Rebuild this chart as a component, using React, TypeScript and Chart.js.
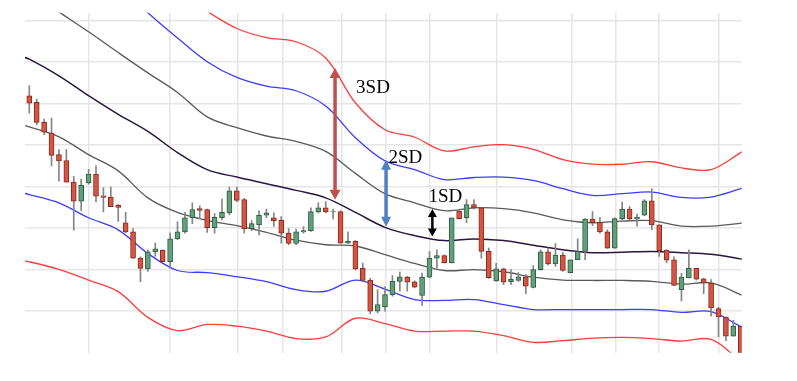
import React, { useEffect, useRef } from "react";
import { Chart, registerables } from "chart.js";

Chart.register(...registerables);

// ---- candle data (index 0..96) ----
const opens = [
  61.9, 60.3, 55.5, 52.9, 47.7, 46.3, 41.1, 36.5, 40.9, 43.0,
  37.8, 37.5, 35.5, 31.3, 29.1, 22.8, 20.2, 24.3, 24.7, 21.9,
  27.4, 29.1, 32.5, 34.7, 34.5, 30.1, 32.5, 33.7, 39.0, 36.9,
  29.9, 30.8, 33.1, 32.5, 31.9, 28.8, 26.3, 29.1, 29.4, 33.9,
  34.9, 33.9, 34.0, 26.4, 26.8, 20.3, 17.5, 10.0, 11.0, 14.0,
  17.2, 18.2, 17.1, 13.8, 18.2, 22.8, 23.4, 21.6, 34.1, 32.5,
  35.7, 34.9, 24.4, 17.3, 20.2, 17.1, 17.4, 18.3, 15.7, 20.0,
  24.3, 21.4, 23.5, 19.3, 22.4, 24.4, 32.2, 31.4, 29.1, 25.2,
  32.3, 34.6, 32.2, 33.1, 36.6, 30.8, 24.7, 22.4, 15.2, 18.0,
  20.3, 17.8, 16.8, 10.6, 8.6, 4.0, 6.4,
];
const closes = [
  60.1, 55.5, 53.1, 47.5, 46.2, 41.1, 36.5, 40.3, 43.0, 37.7,
  37.4, 35.2, 35.0, 29.1, 22.8, 20.3, 24.3, 25.0, 21.9, 27.4,
  29.1, 32.5, 34.5, 34.3, 30.1, 32.6, 33.8, 39.0, 36.7, 29.9,
  31.1, 33.1, 33.7, 31.8, 28.8, 26.3, 29.1, 29.4, 34.0, 34.9,
  33.9, 34.0, 26.4, 26.8, 20.2, 17.4, 10.0, 11.6, 14.0, 17.2,
  18.3, 17.0, 15.8, 18.2, 22.8, 23.4, 21.6, 32.5, 32.3, 35.7,
  34.9, 24.4, 18.1, 20.2, 17.0, 17.7, 18.3, 16.0, 20.0, 24.3,
  21.4, 23.5, 19.8, 22.4, 24.4, 32.2, 31.3, 29.1, 25.2, 32.3,
  34.6, 32.3, 32.6, 36.6, 30.8, 24.6, 22.3, 16.2, 18.2, 20.3,
  17.7, 16.8, 10.8, 8.6, 4.0, 6.4, -1.2,
];
const highs = [
  64.3, 61.1, 56.3, 56.5, 48.9, 48.9, 42.5, 41.8, 44.2, 45.0,
  39.7, 39.9, 35.7, 33.8, 29.9, 23.1, 24.8, 26.4, 24.8, 28.9,
  31.5, 33.8, 36.1, 35.4, 34.6, 33.5, 37.0, 39.9, 39.9, 37.2,
  31.8, 34.2, 34.6, 33.7, 32.8, 29.9, 29.8, 30.4, 34.9, 36.1,
  36.4, 34.6, 34.2, 29.1, 27.0, 21.6, 17.9, 15.2, 15.9, 18.6,
  19.4, 18.4, 17.3, 19.2, 24.4, 24.8, 23.6, 32.5, 34.2, 36.9,
  36.9, 34.9, 25.2, 21.5, 20.4, 20.0, 19.3, 18.8, 21.0, 24.8,
  25.2, 26.3, 24.2, 22.4, 27.4, 32.3, 34.0, 32.6, 29.6, 32.5,
  36.3, 35.2, 33.4, 36.9, 39.5, 30.8, 24.8, 23.1, 19.1, 24.8,
  20.3, 18.0, 17.6, 11.0, 8.6, 7.8, 6.4,
];
const lows = [
  57.7, 54.9, 52.5, 45.0, 41.3, 41.0, 29.5, 34.2, 40.6, 36.3,
  33.9, 35.2, 31.6, 28.9, 22.7, 17.1, 19.6, 23.2, 21.9, 20.3,
  27.2, 28.8, 31.1, 32.3, 29.0, 28.8, 32.0, 33.2, 36.4, 28.8,
  29.4, 28.4, 32.5, 30.4, 26.4, 26.0, 26.0, 28.8, 29.2, 33.7,
  33.7, 32.2, 26.4, 26.3, 19.9, 17.2, 9.4, 9.6, 10.0, 13.6,
  14.8, 14.8, 15.6, 11.4, 18.0, 20.4, 21.6, 21.6, 32.2, 31.3,
  34.6, 22.8, 17.9, 17.2, 16.4, 16.4, 17.2, 14.2, 15.6, 19.9,
  21.1, 20.8, 19.6, 19.2, 22.4, 22.4, 30.6, 28.8, 25.1, 25.1,
  32.0, 32.0, 30.5, 33.0, 29.6, 23.2, 21.6, 16.2, 12.5, 18.0,
  17.5, 14.2, 8.8, 3.8, 2.9, 4.0, -2.8,
];

// ---- band lines, sampled at these candle indices ----
const bandIdx = [-1, 0, 4, 8, 12, 16, 20, 24, 28, 32, 36, 40, 44, 48, 52, 56, 60, 64, 68, 72, 76, 80, 84, 88, 92, 96, 97];
const upper3 = [107.8, 106.6, 103.0, 99.4, 95.3, 91.0, 86.6, 82.2, 78.1, 75.9, 74.9, 71.0, 60.2, 53.7, 51.9, 48.6, 49.6, 50.1, 49.0, 46.5, 45.4, 45.4, 46.0, 44.5, 44.1, 48.2, 49.4];
const upper2 = [106.1, 104.9, 99.9, 94.6, 88.6, 81.9, 75.8, 70.1, 66.3, 64.2, 63.1, 59.4, 51.8, 46.2, 44.1, 41.7, 42.2, 42.3, 41.5, 39.5, 37.9, 38.3, 38.7, 37.4, 37.5, 39.5, 40.0];
const upper1 = [88.1, 86.9, 82.1, 77.3, 72.3, 67.4, 62.7, 56.8, 54.2, 52.2, 50.9, 48.5, 43.2, 38.3, 36.1, 34.2, 34.9, 34.7, 33.7, 32.0, 31.3, 31.7, 31.8, 30.5, 30.5, 31.2, 31.6];
const middle = [71.3, 70.7, 66.7, 61.9, 57.4, 53.3, 48.2, 44.1, 42.3, 40.7, 39.1, 37.3, 33.8, 30.2, 28.2, 27.0, 27.4, 27.0, 25.9, 24.8, 24.1, 24.2, 24.4, 24.1, 23.7, 22.6, 22.2];
const lower1 = [54.9, 54.4, 52.0, 47.7, 43.8, 37.3, 33.8, 31.9, 30.6, 29.0, 27.1, 26.0, 25.7, 23.6, 21.5, 19.8, 20.0, 19.5, 18.2, 17.5, 17.4, 17.4, 17.2, 16.5, 16.8, 14.0, 13.3];
const lower2 = [38.5, 38.1, 36.1, 32.5, 29.6, 23.9, 19.8, 19.3, 18.3, 17.1, 15.2, 14.8, 17.5, 15.3, 12.8, 12.6, 12.8, 11.6, 10.4, 10.4, 10.4, 10.4, 10.4, 9.7, 9.9, 6.3, 5.6];
const lower3 = [22.1, 21.9, 20.1, 17.5, 14.7, 8.5, 5.3, 6.8, 6.4, 5.2, 3.4, 3.8, 8.3, 7.0, 5.2, 5.2, 5.2, 4.1, 2.5, 2.9, 3.5, 3.7, 3.4, 2.8, 3.2, -2.1, -3.6];

// vertical grid line positions (candle index units)
const gridX = [7.96, 18.99, 28.07, 34.2, 42.16, 48.1, 54.1, 63.08, 73.2, 79.1, 85.0, 93.1];

// SD annotations
const sdLabels = ["3SD", "2SD", "1SD"];
const arrowIdx = [41.26, 48.14, 54.39];
const arrowFrom = [36.85, 30.36, 28.02];
const arrowTo = [68.6, 46.5, 34.62];
const labelIdx = [44.1, 48.46, 53.86];
const labelBase = [62.5, 45.8, 36.3];

const arrowStyles = [
  { color: "#c0504d", shaft: 3.5, headW: 11, headL: 10 },
  { color: "#4f81bd", shaft: 3.5, headW: 10, headL: 10 },
  { color: "#000000", shaft: 2.5, headW: 9, headL: 8 },
];

const RED_FILL = "#d55443";
const RED_EDGE = "#8a2a1d";
const GREEN_FILL = "#62a07c";
const GREEN_EDGE = "#2e5d40";
const WICK = "#858585";
const GRID = "#e6e6e6";

const candleIdx = opens.map((_, i) => i);

function band(values: number[]) {
  return bandIdx.map((x, k) => ({ x, y: values[k] }));
}

function lineDs(values: number[], color: string, width = 1.3) {
  return {
    type: "line" as const,
    data: band(values),
    borderColor: color,
    borderWidth: width,
    pointRadius: 0,
    tension: 0.35,
    fill: false,
    order: 2,
  };
}

const sdPlugin = {
  id: "sdArrows",
  afterDatasetsDraw(chart: any) {
    const { ctx, scales } = chart;
    const xs = scales.x;
    const ys = scales.y;
    ctx.save();
    for (let k = 0; k < arrowIdx.length; k++) {
      const st = arrowStyles[k];
      const x = xs.getPixelForValue(arrowIdx[k]);
      const yb = ys.getPixelForValue(arrowFrom[k]);
      const yt = ys.getPixelForValue(arrowTo[k]);
      ctx.fillStyle = st.color;
      ctx.strokeStyle = st.color;
      ctx.lineWidth = st.shaft;
      ctx.beginPath();
      ctx.moveTo(x, yt + st.headL - 1);
      ctx.lineTo(x, yb - st.headL + 1);
      ctx.stroke();
      ctx.beginPath();
      ctx.moveTo(x, yt);
      ctx.lineTo(x - st.headW / 2, yt + st.headL);
      ctx.lineTo(x + st.headW / 2, yt + st.headL);
      ctx.closePath();
      ctx.fill();
      ctx.beginPath();
      ctx.moveTo(x, yb);
      ctx.lineTo(x - st.headW / 2, yb - st.headL);
      ctx.lineTo(x + st.headW / 2, yb - st.headL);
      ctx.closePath();
      ctx.fill();
    }
    ctx.fillStyle = "#000000";
    ctx.font = "19px 'Liberation Serif', 'Times New Roman', serif";
    ctx.textBaseline = "alphabetic";
    ctx.textAlign = "left";
    for (let k = 0; k < sdLabels.length; k++) {
      ctx.fillText(sdLabels[k], xs.getPixelForValue(labelIdx[k]), ys.getPixelForValue(labelBase[k]));
    }
    ctx.restore();
  },
};

export default function App() {
  const ref = useRef<HTMLCanvasElement | null>(null);

  useEffect(() => {
    if (!ref.current) return;
    const up = (i: number) => closes[i] >= opens[i];
    const chart = new Chart(ref.current, {
      type: "bar",
      data: {
        datasets: [
          {
            type: "bar",
            data: candleIdx.map((i) => ({ x: i, y: [opens[i], closes[i]] })) as any,
            backgroundColor: candleIdx.map((i) => (up(i) ? GREEN_FILL : RED_FILL)),
            borderColor: candleIdx.map((i) => (up(i) ? GREEN_EDGE : RED_EDGE)),
            borderWidth: 1,
            borderSkipped: false,
            barThickness: 5,
            grouped: false,
            order: 0,
          } as any,
          {
            type: "bar",
            data: candleIdx.map((i) => ({ x: i, y: [lows[i], highs[i]] })) as any,
            backgroundColor: WICK,
            borderWidth: 0,
            barThickness: 1,
            grouped: false,
            order: 1,
          } as any,
          lineDs(upper3, "#ff3c3c"),
          lineDs(upper2, "#3c3cff"),
          lineDs(upper1, "#5a5a5a"),
          lineDs(middle, "#2a1540", 1.5),
          lineDs(lower1, "#5a5a5a"),
          lineDs(lower2, "#3c3cff"),
          lineDs(lower3, "#ff3c3c"),
        ],
      },
      options: {
        responsive: false,
        animation: false,
        events: [],
        layout: { padding: { left: 25, top: 12.7, right: 55.3, bottom: 28.3 } },
        plugins: { legend: { display: false }, tooltip: { enabled: false } },
        scales: {
          x: {
            type: "linear",
            offset: false,
            min: -0.58,
            max: 96.13,
            ticks: { display: false },
            border: { display: false },
            grid: { color: GRID, lineWidth: 1.5, drawTicks: false, offset: false },
            afterBuildTicks: (scale: any) => {
              scale.ticks = gridX.map((v) => ({ value: v }));
            },
            afterFit: (scale: any) => {
              scale.height = 0;
            },
          },
          y: {
            type: "linear",
            min: 0,
            max: 81.9,
            ticks: { display: false, stepSize: 10, includeBounds: false },
            border: { display: false },
            grid: {
              color: (c: any) => (c.tick && c.tick.value === 0 ? "rgba(0,0,0,0)" : GRID),
              lineWidth: 1.5,
              drawTicks: false,
            },
            afterFit: (scale: any) => {
              scale.width = 0;
            },
          },
        },
      } as any,
      plugins: [sdPlugin],
    });
    return () => chart.destroy();
  }, []);

  return (
    <div style={{ position: "absolute", left: 0, top: 0, width: 797, height: 381, background: "#ffffff" }}>
      <canvas ref={ref} width={797} height={381} />
    </div>
  );
}
